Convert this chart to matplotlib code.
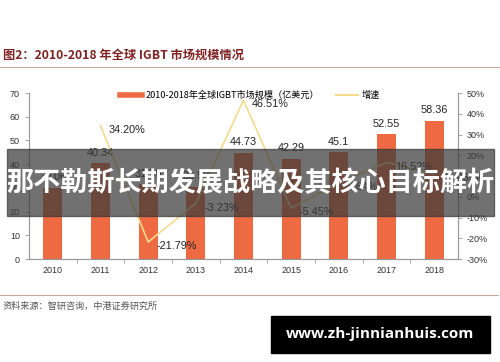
import matplotlib.pyplot as plt
from matplotlib.lines import Line2D
from matplotlib.patches import Rectangle

plt.rcParams['font.family'] = ['Noto Sans CJK SC', 'DejaVu Sans']

years = ['2010', '2011', '2012', '2013', '2014', '2015', '2016', '2017', '2018']
market = [30.06, 40.34, 31.55, 30.53, 44.73, 42.29, 45.1, 52.55, 58.36]
growth_years = ['2011', '2012', '2013', '2014', '2015', '2016', '2017', '2018']
growth = [34.20, -21.79, -3.23, 46.51, -5.45, 6.64, 16.52, 11.06]

bar_c = '#EE6A43'
line_c = '#F3DA8E'
axis_c = '#9A9A9A'

fig = plt.figure(figsize=(5, 3.62), dpi=100)
ax1 = fig.add_axes([0.058, 0.2845, 0.858, 0.4585])
ax2 = ax1.twinx()

x = list(range(len(years)))
ax1.bar(x, market, width=0.4, color=bar_c, zorder=2)
for xi, v in zip(x, market):
    ax1.annotate(f'{v:g}', (xi, v), xytext=(0, 4),
                 textcoords='offset points', ha='center', va='bottom',
                 fontsize=7.8, family='Liberation Sans', color='#222222')

gx = [years.index(y) for y in growth_years]
ax2.plot(gx, growth, color=line_c, lw=1.2, zorder=3)
for xi, v in zip(gx, growth):
    ax2.annotate(f'{v:.2f}%', (xi, v), xytext=(6, -3),
                 textcoords='offset points', ha='left', va='center',
                 fontsize=7.8, family='Liberation Sans', color='#222222')

ax1.set_xlim(-0.5, len(years) - 0.5)
ax1.set_ylim(0, 70)
ax1.set_yticks(range(0, 71, 10))
ax2.set_ylim(-30, 50)
ax2.set_yticks(range(-30, 51, 10))
ax2.set_yticklabels([f'{t}%' for t in range(-30, 51, 10)])
ax1.set_xticks(x)
ax1.set_xticklabels(years)
ax1.set_xticks([i + 0.5 for i in x[:-1]], minor=True)

for a in (ax1, ax2):
    a.spines['top'].set_visible(False)
    for s in ('left', 'right', 'bottom'):
        a.spines[s].set_color(axis_c)
        a.spines[s].set_linewidth(0.8)
    a.tick_params(labelsize=6.5, colors='#333333', length=3, width=0.6)
    a.tick_params(color=axis_c)
ax1.tick_params(axis='x', which='major', length=0, pad=5)
ax1.tick_params(axis='x', which='minor', length=3, color=axis_c)
for lab in ax1.get_xticklabels() + ax1.get_yticklabels() + ax2.get_yticklabels():
    lab.set_family('Liberation Sans')

handles = [Line2D([], [], color=bar_c, lw=4),
           Line2D([], [], color=line_c, lw=1.5)]
fig.legend(handles, ['2010-2018年全球IGBT市场规模（亿美元）', '增速'],
           loc='center', bbox_to_anchor=(0.5, 0.737), ncol=2, frameon=False,
           fontsize=6.6, handlelength=2.4, columnspacing=1.8, handletextpad=0.4)

# header, rules and source
fig.text(0.006, 0.848, '图2：2010-2018 年全球 IGBT 市场规模情况', fontsize=8.8,
         fontweight='bold', color='#7E2222', va='center')
fig.add_artist(Line2D([0, 1], [0.815, 0.815], color='#C9A9A0', lw=0.8))
fig.add_artist(Line2D([0, 0.995], [0.185, 0.185], color='#C9A9A0', lw=0.8))
fig.text(0.006, 0.155, '资料来源：智研咨询，中港证券研究所', fontsize=6.6,
         color='#555555', va='center', style='italic')

# overlay band
fig.add_artist(Rectangle((0.014, 1 - 216 / 362), 0.974, 67 / 362,
                         transform=fig.transFigure, color='#3A3A3A', alpha=0.72,
                         zorder=10))
fig.text(0.501, 1 - 183 / 362, '那不勒斯长期发展战略及其核心目标解析', fontsize=19.5,
         fontweight='bold', color='white', ha='center', va='center', zorder=11)

# watermark
fig.add_artist(Rectangle((271 / 500, 1 - 353 / 362), 219 / 500, 37 / 362,
                         transform=fig.transFigure, color='black', zorder=10))
fig.text(380 / 500, 1 - 334 / 362, 'www.zh-jinnianhuis.com', fontsize=11,
         fontweight='bold', color='white', ha='center', va='center',
         family='Open Sans', zorder=11)

fig.savefig('out.png', dpi=100)
